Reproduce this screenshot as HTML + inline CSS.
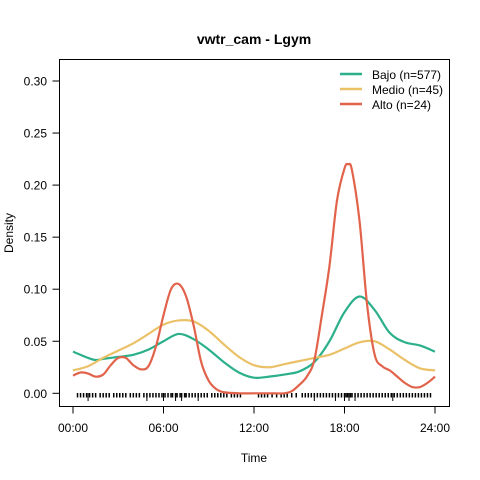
<!DOCTYPE html>
<html><head><meta charset="utf-8"><style>
body{margin:0;background:#fff}
svg{display:block;font-family:"Liberation Sans",Arial,sans-serif}
</style></head><body>
<svg id="chart" width="480" height="480" viewBox="0 0 480 480">
<rect width="480" height="480" fill="#fff"/>
<text x="254" y="44" text-anchor="middle" font-weight="bold" font-size="14">vwtr_cam - Lgym</text>
<rect x="59.5" y="59.5" width="390" height="347" fill="none" stroke="#000"/>
<text x="254" y="462" text-anchor="middle" font-size="12">Time</text>
<text transform="translate(13,233) rotate(-90)" text-anchor="middle" font-size="12">Density</text>
<g id="axes"></g><g id="rug"></g><g id="series"></g>
<g font-size="12">
<line x1="340" y1="74" x2="362" y2="74" stroke="#2bb08b" stroke-width="2.5"/>
<text x="372" y="79">Bajo (n=577)</text>
<line x1="340" y1="89" x2="362" y2="89" stroke="#ebc168" stroke-width="2.5"/>
<text x="372" y="94">Medio (n=45)</text>
<line x1="340" y1="104" x2="362" y2="104" stroke="#e2634b" stroke-width="2.5"/>
<text x="372" y="109">Alto (n=24)</text>
</g>
</svg>
<script>
const xTicks=[0,6,12,18,24];
const xTickLabels=["00:00","06:00","12:00","18:00","24:00"];
const yTicks=[0,0.05,0.1,0.15,0.2,0.25,0.3];
const yTickLabels=["0.00","0.05","0.10","0.15","0.20","0.25","0.30"];
const bajoX=[0,1,1.5,2,3,4,5,6,7,8,9,10,11,12,13,14,15,16,17,18,19,20,21,22,23,24];
const bajoY=[0.040,0.034,0.032,0.033,0.035,0.037,0.042,0.050,0.057,0.052,0.042,0.030,0.020,0.015,0.016,0.018,0.021,0.030,0.050,0.078,0.093,0.080,0.058,0.049,0.046,0.040];
const medioX=[0,1,2,3,4,5,6,7,8,9,10,11,12,13,14,15,16,17,18,19,20,21,22,23,24];
const medioY=[0.022,0.026,0.034,0.041,0.048,0.057,0.066,0.070,0.069,0.060,0.047,0.035,0.027,0.025,0.028,0.031,0.034,0.037,0.043,0.049,0.050,0.042,0.032,0.024,0.022];
const altoX=[0,0.5,1,1.5,2,2.5,3,3.5,4,4.5,5,5.5,6,6.5,7,7.5,8,8.5,9,9.5,10,11,12,13,14,14.5,15,15.5,16,16.5,17,17.5,18,18.25,18.5,19,19.5,20,20.5,21,21.5,22,22.5,23,23.5,24];
const altoY=[0.017,0.020,0.019,0.016,0.018,0.027,0.034,0.034,0.027,0.023,0.026,0.045,0.075,0.100,0.105,0.093,0.065,0.030,0.012,0.004,0.001,0,0,0,0,0.002,0.008,0.016,0.032,0.075,0.122,0.185,0.216,0.220,0.214,0.165,0.085,0.037,0.026,0.022,0.016,0.010,0.006,0.006,0.010,0.016];
const rugTimes=[0.3,0.5,0.7,0.9,1.1,1.3,1.5,1.8,2.0,2.2,2.4,2.7,2.9,3.1,3.3,3.5,3.8,4.0,4.2,4.4,4.7,4.9,5.1,5.3,5.5,5.7,5.9,6.1,6.3,6.5,6.6,6.8,6.9,7.1,7.2,7.4,7.5,7.7,7.9,8.1,8.3,8.5,8.7,8.9,9.2,9.4,9.6,9.8,10.0,10.2,10.5,10.7,10.9,11.1,12.3,12.5,12.7,12.9,13.2,13.5,13.8,14.0,14.2,14.5,14.8,15.2,15.4,15.6,15.8,16.0,16.2,16.4,16.6,16.8,17.0,17.2,17.4,17.6,17.8,18.0,18.1,18.2,18.3,18.4,18.5,18.7,18.9,19.1,19.3,19.5,19.7,19.9,20.1,20.3,20.5,20.7,20.9,21.1,21.3,21.5,21.7,21.9,22.1,22.3,22.5,22.7,22.9,23.1,23.3,23.5,23.7];
const rugLong=[1.0,4.9,6.0,6.8,7.2,8.3,16.0,17.4,18.0,18.3,18.7,21.2];
const sx=h=>73+h/24*362, sy=v=>393.3-v/0.05*52.05;
const NS="http://www.w3.org/2000/svg";
function mk(t,a,p){const e=document.createElementNS(NS,t);for(const k in a)e.setAttribute(k,a[k]);p.appendChild(e);return e;}
const axes=document.getElementById('axes');
mk('line',{x1:sx(0),y1:406.5,x2:sx(24),y2:406.5,stroke:'#000'},axes);
xTicks.forEach((t,i)=>{
 const l=mk('line',{x1:sx(t),y1:406.5,x2:sx(t),y2:413.5,stroke:'#000'},axes);
 
 
 const tx=mk('text',{x:sx(t),y:432,'text-anchor':'middle','font-size':12},axes);tx.textContent=xTickLabels[i];
 
 
});
mk('line',{x1:59.5,y1:sy(0),x2:59.5,y2:sy(0.3),stroke:'#000'},axes);
yTicks.forEach((t,i)=>{
 const l=mk('line',{x1:52.5,y1:sy(t),x2:59.5,y2:sy(t),stroke:'#000'},axes);
 
 
 const tx=mk('text',{x:47,y:sy(t)+4.5,'text-anchor':'end','font-size':12},axes);tx.textContent=yTickLabels[i];
 
 
});
const rug=document.getElementById('rug');
rugTimes.forEach(t=>{const l=mk('line',{x1:sx(t),y1:393,x2:sx(t),y2:397.5,stroke:'#000','stroke-width':1.5},rug);
 
 });
rugLong.forEach(t=>{const l=mk('line',{x1:sx(t),y1:393,x2:sx(t),y2:401,stroke:'#000'},rug);
 
 });
function path(xs,ys){
 const p=xs.map((x,i)=>[sx(x),sy(ys[i])]);let d=`M${p[0][0]},${p[0][1]}`;
 for(let i=0;i<p.length-1;i++){const a=p[i-1]||p[i],b=p[i],c=p[i+1],e=p[i+2]||c;
  d+=`C${b[0]+(c[0]-a[0])/6},${b[1]+(c[1]-a[1])/6} ${c[0]-(e[0]-b[0])/6},${c[1]-(e[1]-b[1])/6} ${c[0]},${c[1]}`;}
 return d;}
const ser=document.getElementById('series');
[[bajoX,bajoY,'#2bb08b','bajo'],[medioX,medioY,'#ebc168','medio'],[altoX,altoY,'#e2634b','alto']].forEach(s=>{
 const e=mk('path',{d:path(s[0],s[1]),fill:'none',stroke:s[2],'stroke-width':2.2},ser);
 
 
});
</script>
</body></html>
